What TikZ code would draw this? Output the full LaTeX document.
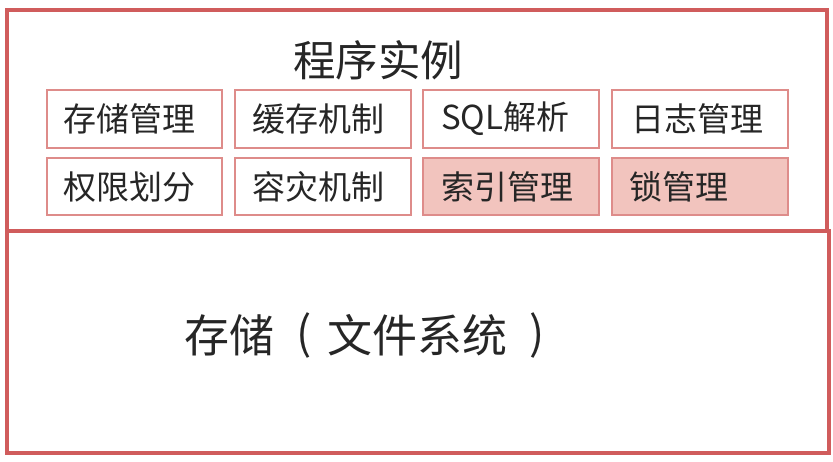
\documentclass[tikz,border=0pt]{standalone}
\usepackage{fontspec}
\newfontfamily\cjk{Noto Sans CJK SC}
\definecolor{outerred}{RGB}{208,92,92}
\definecolor{innerred}{RGB}{222,140,138}
\definecolor{pinkfill}{RGB}{242,196,190}
\tikzset{
  outerbox/.style={draw=outerred, line width=3.5pt},
  cell/.style={draw=innerred, line width=1.3pt, fill=white},
  hcell/.style={draw=innerred, line width=1.3pt, fill=pinkfill},
  celltext/.style={anchor=west, inner sep=0pt, font=\cjk\fontsize{33}{33}\selectfont, text=black!85},
  bigtext/.style={inner sep=0pt, font=\cjk\fontsize{45}{45}\selectfont, text=black!85},
}
\begin{document}
\begin{tikzpicture}[x=1pt,y=-1pt]
\useasboundingbox[fill=white] (0,0) rectangle (833,461);
% outer boxes
\draw[outerbox] (7,10) rectangle (827,231);
\draw[outerbox] (7,231) rectangle (829,453);
\node[font=\cjk\fontsize{42.5}{42.5}\selectfont, text=black!85] (title) at (378,60) {程序实例};
% cells row 1
\path[cell] (47,90) rectangle (222,148);
\path[cell] (235,90) rectangle (411,148);
\path[cell] (423,90) rectangle (599,148);
\path[cell] (612,90) rectangle (788,148);
% cells row 2
\path[cell] (47,158) rectangle (222,215);
\path[cell] (235,158) rectangle (411,215);
\path[hcell] (423,158) rectangle (599,215);
\path[hcell] (612,158) rectangle (788,215);
% texts
\node[celltext] (c11) at (63,119) {存储管理};
\node[celltext] (c12) at (252,119) {缓存机制};
\node[celltext] (c13) at (441,119) {SQL解析};
\node[celltext] (c14) at (631,119) {日志管理};
\node[celltext] (c21) at (63,187) {权限划分};
\node[celltext] (c22) at (252,187) {容灾机制};
\node[celltext] (c23) at (441,187) {索引管理};
\node[celltext] (c24) at (629,187) {锁管理};
\node[bigtext, anchor=west] (store) at (184,335) {存储};
\node[bigtext] (lp) at (304,335) {(};
\node[bigtext, anchor=west] (fs) at (327,335) {文件系统};
\node[bigtext] (rp) at (537,335) {)};
\end{tikzpicture}
\end{document}
